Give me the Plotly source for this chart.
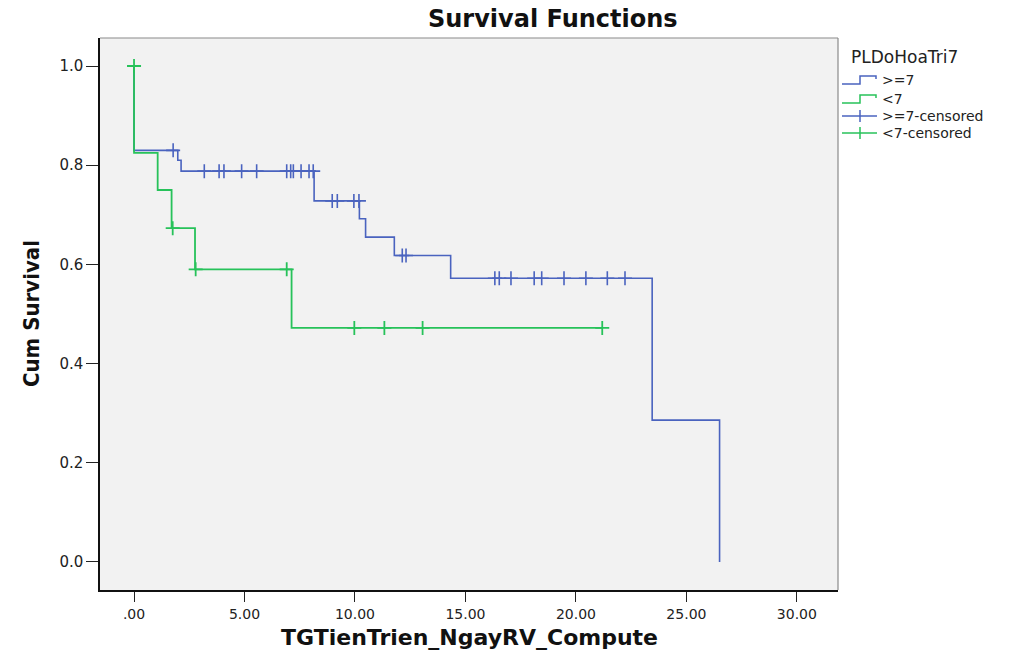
import plotly.graph_objects as go

# Kaplan-Meier step curves (time, cumulative survival)
ge7_time = [0.0, 0.0, 1.98, 2.13, 8.15, 10.20, 10.48, 11.78, 14.33, 23.45, 26.50]
ge7_surv = [1.0, 0.830, 0.810, 0.788, 0.728, 0.692, 0.655, 0.618, 0.572, 0.286, 0.0]

lt7_time = [0.0, 0.0, 1.07, 1.70, 2.76, 7.13, 21.20]
lt7_surv = [1.0, 0.825, 0.750, 0.673, 0.590, 0.472, 0.472]

# Censored observations
ge7_cens_time = [1.77, 3.18, 3.85, 4.07, 4.87, 5.55, 6.91, 7.09, 7.21, 7.56, 7.92, 8.11,
                 8.97, 9.20, 9.95, 10.18, 12.14, 12.31,
                 16.33, 16.53, 17.06, 18.11, 18.45, 19.46, 20.45, 21.42, 22.22]
ge7_cens_surv = [0.830, 0.788, 0.788, 0.788, 0.788, 0.788, 0.788, 0.788, 0.788, 0.788, 0.788, 0.788,
                 0.728, 0.728, 0.728, 0.728, 0.618, 0.618,
                 0.572, 0.572, 0.572, 0.572, 0.572, 0.572, 0.572, 0.572, 0.572]

lt7_cens_time = [0.0, 1.75, 2.79, 6.91, 9.97, 11.33, 13.06, 21.19]
lt7_cens_surv = [1.0, 0.673, 0.590, 0.590, 0.472, 0.472, 0.472, 0.472]

x_tick_vals = [0, 5, 10, 15, 20, 25, 30]
x_tick_text = [".00", "5.00", "10.00", "15.00", "20.00", "25.00", "30.00"]
y_tick_vals = [0.0, 0.2, 0.4, 0.6, 0.8, 1.0]
y_tick_text = ["0.0", "0.2", "0.4", "0.6", "0.8", "1.0"]

legend_title = "PLDoHoaTri7"
legend_labels = [">=7", "<7", ">=7-censored", "<7-censored"]

BLUE = "#4a63bf"
GREEN = "#27c25a"
FONT = "DejaVu Sans"

W, H = 1023, 650
L, R, T, B = 100, 838, 38, 590


def px(xp):
    return (xp - L) / (R - L)


def py(yp):
    return (B - yp) / (B - T)


fig = go.Figure()

fig.add_trace(go.Scatter(x=ge7_time, y=ge7_surv, mode="lines", line=dict(color=BLUE, width=1.6, shape="hv"),
                         showlegend=False, hoverinfo="skip"))
fig.add_trace(go.Scatter(x=lt7_time, y=lt7_surv, mode="lines", line=dict(color=GREEN, width=1.8, shape="hv"),
                         showlegend=False, hoverinfo="skip"))
fig.add_trace(go.Scatter(x=ge7_cens_time, y=ge7_cens_surv, mode="markers",
                         marker=dict(symbol="cross-thin", size=10, line=dict(color=BLUE, width=1.6)),
                         showlegend=False, hoverinfo="skip"))
fig.add_trace(go.Scatter(x=lt7_cens_time, y=lt7_cens_surv, mode="markers",
                         marker=dict(symbol="cross-thin", size=10, line=dict(color=GREEN, width=1.8)),
                         showlegend=False, hoverinfo="skip"))

shapes = []
annotations = []

# plot frame: light top/right edges
shapes.append(dict(type="line", xref="paper", yref="paper", x0=0, x1=1, y0=1, y1=1,
                   line=dict(color="#8a8a8a", width=1.2)))
shapes.append(dict(type="line", xref="paper", yref="paper", x0=1, x1=1, y0=0, y1=1,
                   line=dict(color="#8a8a8a", width=1.2)))

# custom legend
annotations.append(dict(text=legend_title, xref="paper", yref="paper", x=px(849), y=py(57),
                        xanchor="left", yanchor="middle", showarrow=False,
                        font=dict(family=FONT, size=17, color="#222")))
rows = [80, 99, 116, 133]
colors = [BLUE, GREEN, BLUE, GREEN]
for i, (lab, yr, col) in enumerate(zip(legend_labels, rows, colors)):
    if i < 2:
        # step-shaped swatch
        pts = [(842, yr + 4), (860, yr + 4), (860, yr - 4), (876, yr - 4), (876, yr - 1)]
        path = "M " + " L ".join(f"{px(a)},{py(b)}" for a, b in pts)
        shapes.append(dict(type="path", xref="paper", yref="paper", path=path,
                           line=dict(color=col, width=1.5)))
    else:
        shapes.append(dict(type="line", xref="paper", yref="paper", x0=px(842), x1=px(877),
                           y0=py(yr), y1=py(yr), line=dict(color=col, width=1.5)))
        shapes.append(dict(type="line", xref="paper", yref="paper", x0=px(860), x1=px(860),
                           y0=py(yr - 6), y1=py(yr + 6), line=dict(color=col, width=1.5)))
    annotations.append(dict(text=lab, xref="paper", yref="paper", x=px(880), y=py(yr),
                            xanchor="left", yanchor="middle", showarrow=False,
                            font=dict(family=FONT, size=14, color="#222")))

# titles
annotations.append(dict(text="<b>Survival Functions</b>", xref="paper", yref="paper",
                        x=px(553), y=py(19), xanchor="center", yanchor="middle", showarrow=False,
                        font=dict(family=FONT, size=24, color="#111")))
annotations.append(dict(text="<b>TGTienTrien_NgayRV_Compute</b>", xref="paper", yref="paper",
                        x=px(469), y=py(637), xanchor="center", yanchor="middle", showarrow=False,
                        font=dict(family=FONT, size=22, color="#111")))
annotations.append(dict(text="<b>Cum Survival</b>", xref="paper", yref="paper",
                        x=px(31), y=py(314), xanchor="center", yanchor="middle", showarrow=False,
                        textangle=-90,
                        font=dict(family="DejaVu Sans Condensed, Liberation Sans Narrow, sans-serif",
                                  size=22, color="#111")))

fig.update_layout(
    width=W, height=H,
    margin=dict(l=L, r=W - R, t=T, b=H - B, pad=0),
    paper_bgcolor="white",
    plot_bgcolor="#f2f2f2",
    showlegend=False,
    shapes=shapes,
    annotations=annotations,
    font=dict(family=FONT, size=14, color="#222"),
)
fig.update_xaxes(range=[-1.54, 31.86], tickvals=x_tick_vals, ticktext=x_tick_text,
                 showgrid=False, zeroline=False, showline=True, linecolor="#111", linewidth=1.5,
                 ticks="outside", ticklen=10, tickwidth=1.3, tickcolor="#222",
                 tickfont=dict(family=FONT, size=14, color="#222"))
fig.update_yaxes(range=[-0.0565, 1.0565], tickvals=y_tick_vals, ticktext=y_tick_text,
                 showgrid=False, zeroline=False, showline=True, linecolor="#111", linewidth=1.5,
                 ticks="outside", ticklen=12, tickwidth=1.3, tickcolor="#222",
                 tickfont=dict(family=FONT, size=15, color="#222"))

fig.write_html("out.html")
